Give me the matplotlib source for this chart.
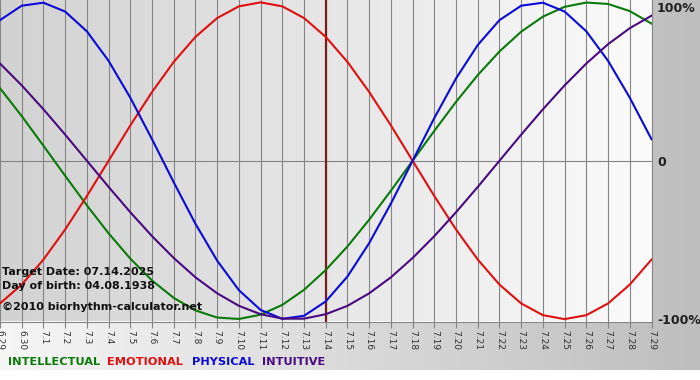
import numpy as np
import matplotlib
matplotlib.use('Agg')
import matplotlib.pyplot as plt
from matplotlib.colors import LinearSegmentedColormap

# day labels along the bottom (month.day)
days = ['6.29', '6.30', '7.1', '7.2', '7.3', '7.4', '7.5', '7.6', '7.7', '7.8', '7.9',
        '7.10', '7.11', '7.12', '7.13', '7.14', '7.15', '7.16', '7.17', '7.18', '7.19',
        '7.20', '7.21', '7.22', '7.23', '7.24', '7.25', '7.26', '7.27', '7.28', '7.29']

# cycle values, one per day (-1 .. 1)
physical = [0.888, 0.979, 0.998, 0.942, 0.817, 0.631, 0.398, 0.136, -0.136, -0.398, -0.631,
            -0.817, -0.942, -0.998, -0.979, -0.888, -0.731, -0.520, -0.270, 0.0, 0.270,
            0.520, 0.731, 0.888, 0.979, 0.998, 0.942, 0.817, 0.631, 0.398, 0.136]
emotional = [-0.901, -0.782, -0.624, -0.434, -0.223, 0.0, 0.223, 0.434, 0.624, 0.782, 0.901,
             0.975, 1.0, 0.975, 0.901, 0.782, 0.624, 0.434, 0.223, 0.0, -0.223,
             -0.434, -0.624, -0.782, -0.901, -0.975, -1.0, -0.975, -0.901, -0.782, -0.624]
intellectual = [0.458, 0.282, 0.095, -0.095, -0.282, -0.458, -0.618, -0.756, -0.866, -0.945, -0.990,
                -0.999, -0.972, -0.910, -0.815, -0.690, -0.541, -0.372, -0.189, 0.0, 0.189,
                0.372, 0.541, 0.690, 0.815, 0.910, 0.972, 0.999, 0.990, 0.945, 0.866]
intuitive = [0.614, 0.476, 0.325, 0.165, 0.0, -0.165, -0.325, -0.476, -0.614, -0.736, -0.837,
             -0.916, -0.969, -0.997, -0.997, -0.969, -0.916, -0.837, -0.736, -0.614, -0.476,
             -0.325, -0.165, 0.0, 0.165, 0.325, 0.476, 0.614, 0.736, 0.837, 0.916]

target_day = '7.14'
target_date = '07.14.2025'
birth_date = '04.08.1938'

W, H = 700, 380
fig = plt.figure(figsize=(7, 3.8), dpi=100)

# page background: light at left, grey at right
bg = fig.add_axes([0, 10 / H, 1, 370 / H])
bg.imshow(np.linspace(0, 1, 256)[None, :], aspect='auto',
          cmap=LinearSegmentedColormap.from_list('page', ['#f6f6f6', '#bebebe']))
bg.axis('off')

ax = fig.add_axes([0, 1 - 321.5 / H, 651.5 / W, 321.5 / H])
x = np.arange(len(days))
ax.set_xlim(0, len(days) - 1)
ax.set_ylim(-1.015, 1.015)

# plot area background: darker at left
ax.imshow(np.linspace(0, 1, 256)[None, :], aspect='auto', zorder=0,
          extent=[0, len(days) - 1, -1.015, 1.015],
          cmap=LinearSegmentedColormap.from_list('plot', ['#d2d2d2', '#fbfbfb']))

ax.set_xticks(x)
ax.set_xticklabels(days)
ax.grid(axis='x', color='#858585', lw=0.8)
ax.axhline(0, color='#858585', lw=0.8, zorder=1)
ax.tick_params(axis='x', direction='out', length=4, width=0.8, color='#858585',
               labelsize=6.5, labelrotation=-90, pad=2, labelcolor='#303030')

ax.yaxis.tick_right()
ax.set_yticks([1, 0, -1])
ax.set_yticklabels(['100%', '0', '-100%'], fontsize=9, fontweight='bold', color='#202020')
ax.tick_params(axis='y', length=0, pad=4)
ax.get_yticklabels()[0].set_va('top')

for s in ['left', 'top']:
    ax.spines[s].set_visible(False)
for s in ['right', 'bottom']:
    ax.spines[s].set_color('#858585')
    ax.spines[s].set_linewidth(0.8)

ax.axvline(days.index(target_day), color='#7a1c1c', lw=1.6, zorder=2)

ax.plot(x, intellectual, color='#0a7a0a', lw=1.5, zorder=3)
ax.plot(x, emotional, color='#e01010', lw=1.5, zorder=3)
ax.plot(x, physical, color='#0a0ad8', lw=1.5, zorder=3)
ax.plot(x, intuitive, color='#4a0a80', lw=1.5, zorder=3)

info = {'fontsize': 8, 'fontweight': 'bold', 'color': '#111111', 'va': 'center'}
fig.text(2 / W, 1 - 272 / H, 'Target Date: ' + target_date, **info)
fig.text(2 / W, 1 - 286 / H, 'Day of birth: ' + birth_date, **info)
fig.text(2 / W, 1 - 307 / H, '\u00a92010 biorhythm-calculator.net', **info)

legend = [('INTELLECTUAL', '#0a7a0a', 8), ('EMOTIONAL', '#e01010', 107),
          ('PHYSICAL', '#0a0ad8', 192), ('INTUITIVE', '#4a0a80', 262)]
for name, col, px in legend:
    fig.text(px / W, 1 - 362 / H, name, color=col, fontsize=8.2, fontweight='bold', va='center')

fig.savefig('out.png', dpi=100)
